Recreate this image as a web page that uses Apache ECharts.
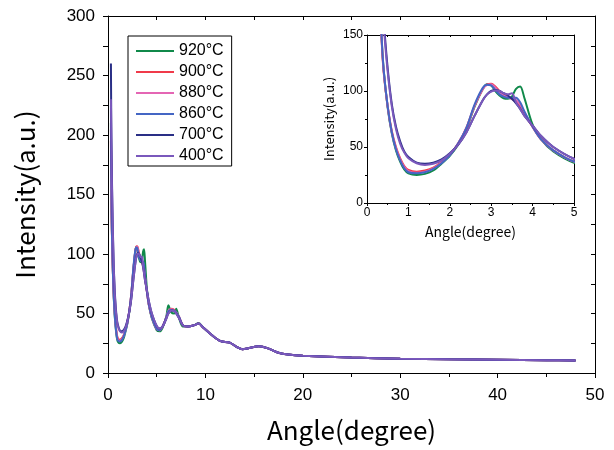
<!DOCTYPE html>
<html lang="en">
<head>
    <meta charset="UTF-8">
    <title>Intensity vs Angle</title>
    <script src="https://cdn.jsdelivr.net/npm/echarts@6/dist/echarts.min.js"></script>
</head>
<body style="margin:0">
<div id="my" style="width: 614px;height: 450px;"></div>
<script>
    // shared x positions (degree)
    var angle = [0.3,0.35,0.4,0.5,0.6,0.7,0.8,0.9,1.0,1.2,1.4,1.6,1.8,2.0,2.2,2.4,2.6,2.8,2.9,3.0,
        3.1,3.2,3.3,3.4,3.5,3.6,3.7,3.8,4.0,4.2,4.5,5.0,5.3,5.6,6.0,6.2,6.5,6.8,7.0,7.3,
        7.7,8.2,8.8,9.3,9.8,10.5,11.5,12.5,13.2,13.8,14.5,15.5,16.5,17.5,18.5,20,25,30,35,40,45,48]

    var s920 = [210,150,120,85,62,47,37,30,26.5,25,26,29,35,42,52,66,86,102,106,105,
        100,96,93.5,93,95,102,104,94,70,57,46,36,35,38,48,57,51,50,54,46,
        39,39,40,42,38,33,27,25.5,22,20,21,22.5,20.5,17,15.5,14.5,13,12,11.5,11.2,10.8,10.5]
    var s900 = [195,148,118,86,64,50,40,33,29.5,28,29,31.5,36.5,43,53,67,87,102,106,106.5,
        104,100,97,95,93,90,86,80,68,57,47,37,36,39,47,52,54,53,51,47,
        40,39,40,41.5,38,33,27,25.5,22,20,21,22.5,20.5,17,15.5,14.5,13,12,11.5,11.2,10.8,10.5]
    var s880 = [205,150,119,86,63,49,39,32,28.5,27,28,31,36,43,53,67,87,102,105.5,106,
        103,99,96,94.5,93.5,92,88,81,68,57,47,37,36,39,47,52,53.5,52.5,51,47,
        40,39,40,41.5,38,33,27,25.5,22,20,21,22.5,20.5,17,15.5,14.5,13,12,11.5,11.2,10.8,10.5]
    var s860 = [225,152,120,86,63,48,38,31,27.5,26.5,27.5,30.5,35.5,42.5,53,67,88,103,105.5,105,
        101,97,95,94,94,94,90,82,68,57,47,37,36,39,47,52,53,52.5,51,47,
        40,39,40,41.5,38,33,27,25.5,22,20,21,22.5,20.5,17,15.5,14.5,13,12,11.5,11.2,10.8,10.5]
    var s700 = [260,195,165,120,88,68,55,46,41,36,35,36,39,44.5,52,63,78,92,97,100,
        101,100,98,96,93,89,84,78,69,60,50,39.5,37.5,39,46,50,52.5,52,50,46,
        40,39,40,41.5,38,33,27,25.5,22,20,21,22.5,20.5,17,15.5,14.5,13,12,11.5,11.2,10.8,10.5]
    var s400 = [230,190,160,117,86,66,53,45,40,35.5,34,35,38,44,52,63,78,92,97,99.5,
        100.5,100,98,97,98,90,84,78,69,60,50,39.5,37.5,39,46,50,52.5,52,50,46,
        40,39,40,41.5,38,33,27,25.5,22,20,21,22.5,20.5,17,15.5,14.5,13,12,11.5,11.2,10.8,10.5]

    var names = ['920°C','900°C','880°C','860°C','700°C','400°C']
    var values = [s920, s900, s880, s860, s700, s400]
    var colors = ['#10894a','#f03a4a','#e466b4','#4466c4','#2a2f86','#7a58bc']

    var numFont = 'Liberation Sans'
    var nameFont = 'Noto Sans CJK JP'

    function pairs(ys) {
        return angle.map(function (x, i) { return [x, ys[i]] })
    }

    var series = []
    values.forEach(function (ys, k) {
        series.push({
            name: names[k], type: 'line', data: pairs(ys), xAxisIndex: 0, yAxisIndex: 0,
            showSymbol: false, smooth: 0.3, lineStyle: {width: 2, color: colors[k]},
            itemStyle: {color: colors[k]}
        })
    })
    values.forEach(function (ys, k) {
        series.push({
            name: names[k], type: 'line', data: pairs(ys), xAxisIndex: 2, yAxisIndex: 2,
            showSymbol: false, smooth: 0.3, clip: true, lineStyle: {width: 2, color: colors[k]},
            itemStyle: {color: colors[k]}
        })
    })

    var black = {show: true, onZero: false, lineStyle: {color: '#000', width: 1}}
    function ticks(len, inside) {
        return {show: true, inside: !!inside, length: len, lineStyle: {color: '#000'}}
    }
    var mCharts = echarts.init(document.getElementById('my'))
    var option = {
        animation: false,
        backgroundColor: '#fff',
        grid: [
            {left: 108, top: 16, right: 19, bottom: 77, outerBoundsMode: 'none'},
            {left: 367, top: 35, right: 40, bottom: 247, outerBoundsMode: 'none',
                show: true, backgroundColor: '#fff', borderWidth: 0}
        ],
        legend: {
            data: names, orient: 'vertical', left: 128, top: 36,
            icon: 'rect', itemWidth: 38, itemHeight: 2, itemGap: 5,
            padding: [7, 8, 2, 8], borderColor: '#000', borderWidth: 1,
            textStyle: {fontSize: 16, fontFamily: numFont, color: '#000'}
        },
        xAxis: [
            {gridIndex: 0, type: 'value', min: 0, max: 50, interval: 10,
                name: 'Angle(degree)', nameLocation: 'middle', nameGap: 44,
                nameTextStyle: {fontSize: 26, fontFamily: nameFont, color: '#000'},
                axisLine: black, axisTick: ticks(5),
                minorTick: {show: true, splitNumber: 2, length: 4, lineStyle: {color: '#000'}},
                splitLine: {show: false},
                axisLabel: {fontSize: 17, fontFamily: numFont, color: '#000', margin: 14}},
            {gridIndex: 0, type: 'value', position: 'top', min: 0, max: 50, interval: 5,
                axisLine: black, axisTick: ticks(4, true),
                axisLabel: {show: false}, splitLine: {show: false}},
            {gridIndex: 1, type: 'value', min: 0, max: 5, interval: 1,
                name: 'Angle(degree)', nameLocation: 'middle', nameGap: 22,
                nameTextStyle: {fontSize: 14, fontFamily: nameFont, color: '#000'},
                axisLine: black, axisTick: ticks(3),
                minorTick: {show: true, splitNumber: 2, length: 2, lineStyle: {color: '#000'}},
                splitLine: {show: false},
                axisLabel: {fontSize: 12, fontFamily: numFont, color: '#000', margin: 4}},
            {gridIndex: 1, type: 'value', position: 'top', min: 0, max: 5, interval: 0.5,
                axisLine: black, axisTick: ticks(2, true),
                axisLabel: {show: false}, splitLine: {show: false}}
        ],
        yAxis: [
            {gridIndex: 0, type: 'value', min: 0, max: 300, interval: 50,
                name: 'Intensity(a.u.)', nameLocation: 'middle', nameGap: 70,
                nameTextStyle: {fontSize: 26, fontFamily: nameFont, color: '#000'},
                axisLine: black, axisTick: ticks(5),
                minorTick: {show: true, splitNumber: 2, length: 5, lineStyle: {color: '#000'}},
                splitLine: {show: false},
                axisLabel: {fontSize: 17, fontFamily: numFont, color: '#000', margin: 13}},
            {gridIndex: 0, type: 'value', position: 'right', min: 0, max: 300, interval: 25,
                axisLine: black, axisTick: ticks(4, true),
                axisLabel: {show: false}, splitLine: {show: false}},
            {gridIndex: 1, type: 'value', min: 0, max: 150, interval: 50,
                name: 'Intensity(a.u.)', nameLocation: 'middle', nameGap: 31,
                nameTextStyle: {fontSize: 13, fontFamily: nameFont, color: '#000'},
                axisLine: black, axisTick: ticks(3),
                minorTick: {show: true, splitNumber: 2, length: 2, lineStyle: {color: '#000'}},
                splitLine: {show: false},
                axisLabel: {fontSize: 12, fontFamily: numFont, color: '#000', margin: 4}},
            {gridIndex: 1, type: 'value', position: 'right', min: 0, max: 150, interval: 25,
                axisLine: black, axisTick: ticks(2, true),
                axisLabel: {show: false}, splitLine: {show: false}}
        ],
        series: series
    }
    mCharts.setOption(option)
</script>
</body>
</html>
